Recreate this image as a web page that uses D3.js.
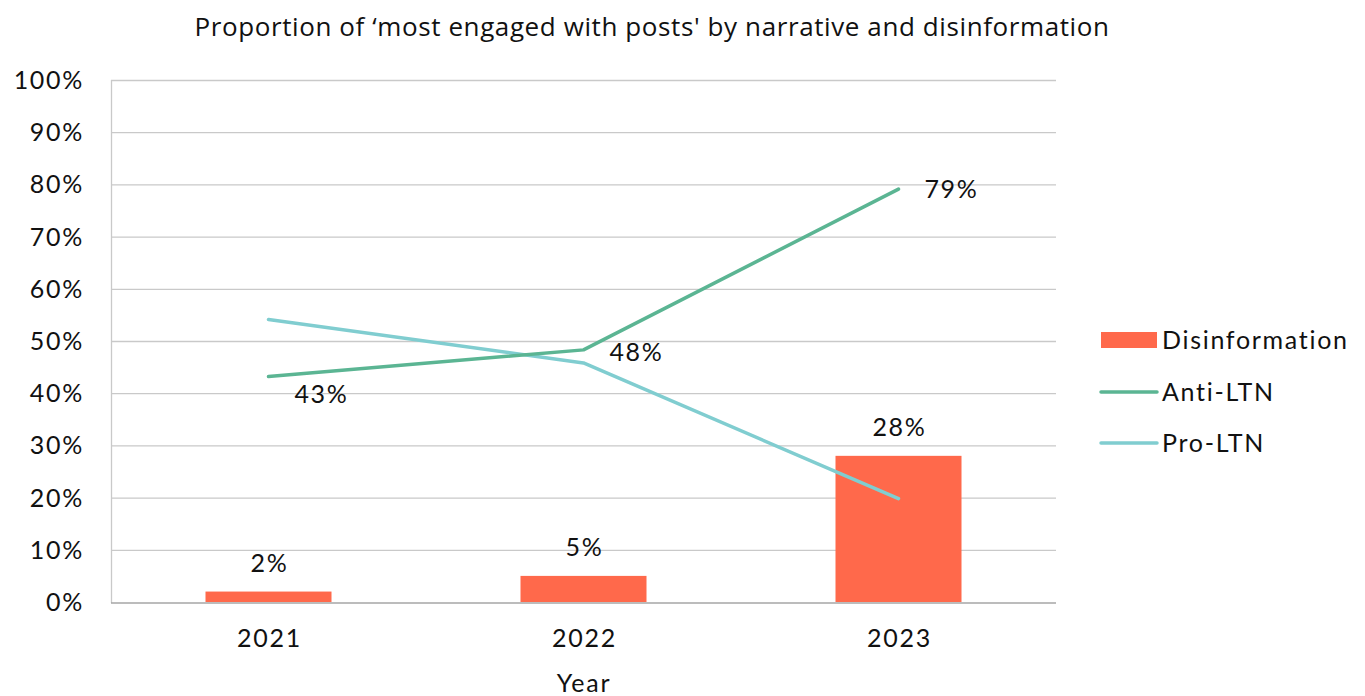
<!DOCTYPE html>
<html><head><meta charset="utf-8">
<script src="https://cdn.jsdelivr.net/npm/d3@7"></script>
<style>body{margin:0;background:#fff}svg{display:block}text{font-family:Lato,"Noto Sans",sans-serif;fill:#111;font-size:25px;letter-spacing:1.7px}</style>
</head><body><svg id="c" width="1365" height="696"></svg>
<script>
const years = ["2021","2022","2023"];
const disinformation = [2, 5, 28];
const antiLTN = [43.2, 48.3, 79.1];
const proLTN = [54.1, 45.8, 19.8];
const antiLabels = ["43%","48%","79%"];
const disLabels = ["2%","5%","28%"];
const yTicks = [0,10,20,30,40,50,60,70,80,90,100];
const legendItems = ["Disinformation","Anti-LTN","Pro-LTN"];
const colors = {dis:"#FF694B", anti:"#5BB593", pro:"#80CDD0"};

const svg = d3.select("#c");
const x = d3.scaleBand().domain(years).range([111,1056]).paddingInner(0).paddingOuter(0);
const y = d3.scaleLinear().domain([0,100]).range([602,80]);
const cx = d => x(d) + x.bandwidth()/2;

svg.append("g").selectAll("line").data(yTicks.filter(t=>t>0)).join("line")
  .attr("x1",111).attr("x2",1056).attr("y1",d=>y(d)+0.5).attr("y2",d=>y(d)+0.5)
  .attr("stroke","#C9C9C9").attr("stroke-width",1.3);
svg.append("line").attr("x1",111.5).attr("x2",111.5).attr("y1",80).attr("y2",603).attr("stroke","#C9C9C9").attr("stroke-width",1.3);
svg.append("g").selectAll("text").data(yTicks).join("text")
  .attr("x",84).attr("y",d=>y(d)).attr("dy","0.36em").attr("text-anchor","end")
  .text(d=>d+"%");

const bw = x.bandwidth()*0.4;
svg.append("g").selectAll("rect").data(years).join("rect")
  .attr("x",d=>cx(d)-bw/2).attr("width",bw)
  .attr("y",(d,i)=>y(disinformation[i])).attr("height",(d,i)=>y(0)-y(disinformation[i]))
  .attr("fill",colors.dis);

svg.append("line").attr("x1",111).attr("x2",1056).attr("y1",603).attr("y2",603).attr("stroke","#A6A6A6").attr("stroke-width",1.3);

const line = d3.line().x((d,i)=>cx(years[i])).y(d=>y(d));
svg.append("path").datum(proLTN).attr("d",line).attr("fill","none").attr("stroke",colors.pro).attr("stroke-width",3.5).attr("stroke-linecap","round").attr("stroke-linejoin","round");
svg.append("path").datum(antiLTN).attr("d",line).attr("fill","none").attr("stroke",colors.anti).attr("stroke-width",3.5).attr("stroke-linecap","round").attr("stroke-linejoin","round");

const lab = svg.append("g");
lab.selectAll("text.dis").data(years).join("text").attr("class","dis")
  .attr("x",d=>cx(d)+1).attr("y",(d,i)=>y(disinformation[i])-29).attr("dy","0.36em").attr("text-anchor","middle")
  .text((d,i)=>disLabels[i]);
const antiOff = [[53,18],[53,2],[53,0]];
lab.selectAll("text.anti").data(years).join("text").attr("class","anti")
  .attr("x",(d,i)=>cx(d)+antiOff[i][0]).attr("y",(d,i)=>y(antiLTN[i])+antiOff[i][1]).attr("dy","0.36em").attr("text-anchor","middle")
  .text((d,i)=>antiLabels[i]);

svg.append("g").selectAll("text").data(years).join("text")
  .attr("x",d=>cx(d)+1).attr("y",638).attr("dy","0.36em").attr("text-anchor","middle")
  .text(d=>d);
svg.append("text").attr("x",584).attr("y",683).attr("dy","0.36em").attr("text-anchor","middle").text("Year");

svg.append("text").attr("x",652).attr("y",27).attr("dy","0.36em").attr("text-anchor","middle")
  .style("font-size","26px").style("letter-spacing","0.6px").style("font-family","'Open Sans',sans-serif")
  .text("Proportion of ‘most engaged with posts' by narrative and disinformation");

const lg = svg.append("g");
const ly = [340,392,443];
lg.append("rect").attr("x",1101).attr("y",ly[0]-8).attr("width",56).attr("height",16).attr("fill",colors.dis);
lg.append("line").attr("x1",1101).attr("x2",1157).attr("y1",ly[1]).attr("y2",ly[1]).attr("stroke",colors.anti).attr("stroke-width",3.5).attr("stroke-linecap","round");
lg.append("line").attr("x1",1101).attr("x2",1157).attr("y1",ly[2]).attr("y2",ly[2]).attr("stroke",colors.pro).attr("stroke-width",3.5).attr("stroke-linecap","round");
lg.selectAll("text").data(legendItems).join("text").attr("x",1162).attr("y",(d,i)=>ly[i]).attr("dy","0.36em")
  .text(d=>d);
</script></body></html>
